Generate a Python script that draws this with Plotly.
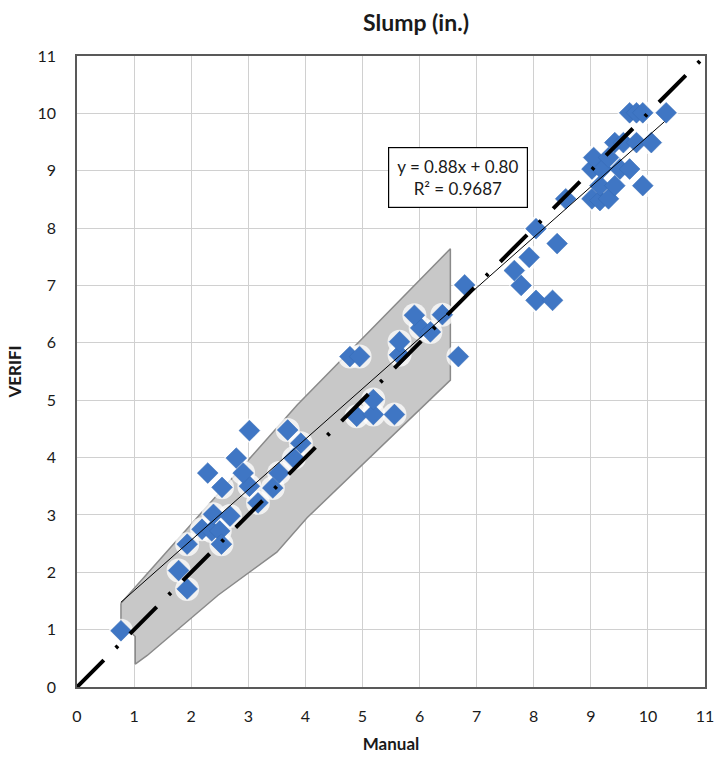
import plotly.graph_objects as go

# ---- data ----
manual = [0.77, 1.78, 1.93, 1.93, 2.19, 2.36, 2.50, 2.53, 2.39, 2.68, 2.54, 3.02, 3.43, 3.17,
          2.29, 2.91, 3.54, 2.79, 3.80, 3.02, 3.69, 3.92,
          4.90, 5.19, 5.19, 5.56, 4.78, 4.95, 5.65, 6.68, 5.65, 6.02, 6.19, 5.91, 6.40, 6.79,
          7.66, 7.78, 7.92, 8.04, 8.04, 8.33, 8.41, 8.56,
          9.02, 9.16, 9.31, 9.16, 9.42, 9.91, 9.02, 9.19, 9.51, 9.68, 9.05, 9.31,
          9.42, 9.57, 9.80, 10.06, 9.68, 9.80, 9.91, 10.32]
verifi = [0.98, 2.03, 1.71, 2.49, 2.75, 2.72, 2.72, 2.49, 3.01, 2.98, 3.48, 3.50, 3.47, 3.21,
          3.73, 3.73, 3.73, 3.99, 3.99, 4.47, 4.48, 4.25,
          4.72, 4.75, 5.01, 4.75, 5.76, 5.76, 5.79, 5.76, 6.02, 6.26, 6.19, 6.48, 6.49, 7.01,
          7.26, 7.00, 7.49, 7.99, 6.74, 6.74, 7.73, 8.51,
          8.51, 8.48, 8.51, 8.74, 8.74, 8.74, 9.03, 9.03, 9.03, 9.03, 9.23, 9.23,
          9.49, 9.49, 9.49, 9.49, 10.01, 10.01, 10.01, 10.01]

band_upper_x = [0.77, 3.86, 6.54]
band_upper_y = [1.46, 4.92, 7.64]
band_lower_x = [6.54, 4.03, 3.50, 2.47, 1.23, 1.02, 1.02, 0.77]
band_lower_y = [5.35, 2.95, 2.35, 1.60, 0.55, 0.40, 0.88, 1.12]

slope, intercept = 0.88, 0.80
trend_x = [0.77, 10.29]
unity_x = [0, 11]
tick_vals = list(range(0, 12))

font = "Lato, 'Open Sans', sans-serif"

fig = go.Figure()

# confidence band
fig.add_trace(go.Scatter(
    x=band_upper_x + band_lower_x + [band_upper_x[0]],
    y=band_upper_y + band_lower_y + [band_upper_y[0]],
    mode="lines", fill="toself", fillcolor="#c8c8c8",
    line=dict(color="#8a8a8a", width=1.5), hoverinfo="skip", showlegend=False))

# white halo behind markers
fig.add_trace(go.Scatter(
    x=manual, y=verifi, mode="markers",
    marker=dict(symbol="circle", size=24, color="rgba(255,255,255,0.75)", line=dict(width=0)),
    hoverinfo="skip", showlegend=False))

# markers
fig.add_trace(go.Scatter(
    x=manual, y=verifi, mode="markers",
    marker=dict(symbol="diamond", size=16, color="#3f76c4",
                line=dict(color="#356ab5", width=0.5)),
    showlegend=False))

# trend line
fig.add_trace(go.Scatter(
    x=trend_x, y=[slope * v + intercept for v in trend_x], mode="lines",
    line=dict(color="#000000", width=1), hoverinfo="skip", showlegend=False))

# unity line
fig.add_trace(go.Scatter(
    x=unity_x, y=unity_x, mode="lines",
    line=dict(color="#000000", width=4, dash="38px,17px,3px,17px"),
    hoverinfo="skip", showlegend=False))

axis_common = dict(
    range=[0, 11], tickvals=tick_vals, showgrid=True, gridcolor="#d0d0d0", gridwidth=1,
    zeroline=False, showline=True, linecolor="#595959", linewidth=1.5, mirror=True,
    ticks="outside", tickcolor="rgba(0,0,0,0)",
    tickfont=dict(family=font, size=16, color="#1a1a1a"), fixedrange=True)

fig.update_xaxes(**axis_common, ticklen=14,
                 title=dict(text="<b>Manual</b>", font=dict(family=font, size=17, color="#1a1a1a"),
                            standoff=14))
fig.update_yaxes(**axis_common, ticklen=16,
                 title=dict(text="<b>VERIFI</b>", font=dict(family=font, size=17, color="#1a1a1a"),
                            standoff=12))

fig.add_annotation(
    x=(420 - 77) / (713 - 77), xref="paper", y=1 + (56 - 22) / (690 - 56), yref="paper",
    text="<b>Slump (in.)</b>", showarrow=False, xanchor="center", yanchor="middle",
    font=dict(family=font, size=23, color="#1a1a1a"))

fig.add_annotation(
    x=(463 - 77) / (713 - 77), xref="paper", y=(690 - 178) / (690 - 56), yref="paper",
    text="y = 0.88x + 0.80<br>R² = 0.9687", showarrow=False,
    font=dict(family=font, size=17, color="#1a1a1a"),
    bgcolor="#ffffff", bordercolor="#000000", borderwidth=1.2, borderpad=8,
    align="center", xanchor="center", yanchor="middle")

fig.update_layout(
    width=726, height=763,
    margin=dict(l=77, r=13, t=56, b=73),
    paper_bgcolor="#ffffff", plot_bgcolor="#ffffff",
    showlegend=False)

fig.write_html("out.html")
